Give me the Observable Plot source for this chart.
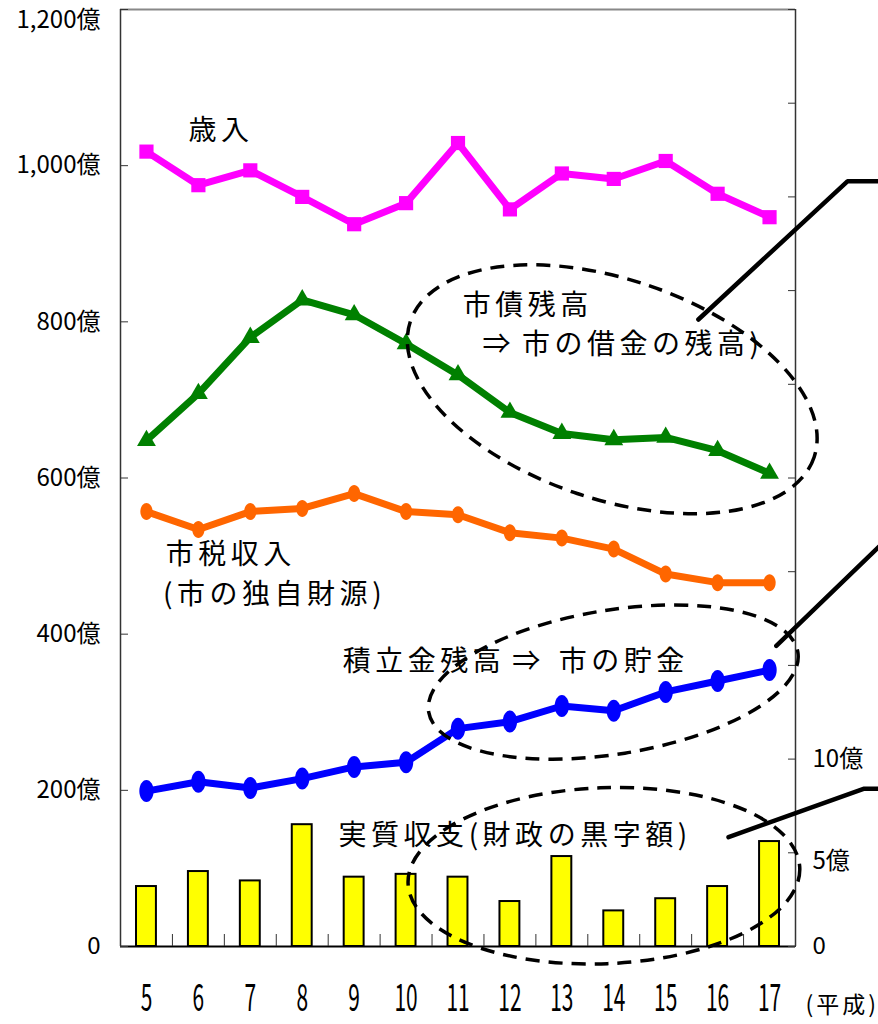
<!DOCTYPE html>
<html><head><meta charset="utf-8">
<script src="https://cdn.jsdelivr.net/npm/d3@7"></script>
<script src="https://cdn.jsdelivr.net/npm/@observablehq/plot@0.6"></script>
<style>
body{margin:0;background:#fff;}
</style></head><body><div id="chart"></div>
<script>
// ---- data ----
const years    = [5,6,7,8,9,10,11,12,13,14,15,16,17];           // 平成
const revenue  = [1018,975,994,960,925,952,1029,944,990,983,1006,964,934]; // 歳入 (億)
const debt     = [648,708,780,828,809,772,732,684,657,649,652,635,606];   // 市債残高 (億)
const tax      = [557,534,557,561,580,557,553,530,523,509,477,466,466];   // 市税収入 (億)
const reserve  = [199,211,203,215,230,236,279,288,308,302,326,340,354];   // 積立金残高 (億)
const surplus  = [3.2,4.0,3.5,6.5,3.7,3.85,3.7,2.4,4.8,1.9,2.55,3.2,5.6]; // 実質収支 (億, right axis)
const leftTicks = [0,200,400,600,800,1000,1200];
const leftTickLabels = ["0","200億","400億","600億","800億","1,000億","1,200億"];
const rightTicks = [0,5,10,15,20,25,30,35,40,45,50];
const rightTickLabels = ["0","5億","10億","","","","","","","",""];
const RIGHT_MAX = 50, LEFT_MAX = 1200;
const toLeft = v => v * LEFT_MAX / RIGHT_MAX;

const rows = years.map((year,i)=>({year, revenue:revenue[i], debt:debt[i], tax:tax[i], reserve:reserve[i], surplus:surplus[i]}));

// ---- annotations (data coordinates) ----
const labels = [
  {x:5.81, y:1044, t:"歳入"},
  {x:11.09, y:820, t:"市債残高"},
  {x:11.47, y:770, t:"⇒ 市の借金の残高)"},
  {x:5.37, y:501, t:"市税収入"},
  {x:5.32, y:450, t:"(市の独自財源)"},
  {x:8.78, y:364, t:"積立金残高 ⇒  市の貯金"},
  {x:8.70, y:141, t:"実質収支(財政の黒字額)"}
];
const leaders = [
  [{x:15.63,y:803},{x:18.50,y:980},{x:19.20,y:980}],
  [{x:17.13,y:385},{x:19.20,y:518}],
  [{x:16.21,y:140},{x:18.81,y:202},{x:19.20,y:202}]
];
const ellipses = [
  {x:13.98, y:713, rx:213, ry:110, rot:18.6},
  {x:14.00, y:338, rx:187, ry:72, rot:-9.2},
  {x:13.82, y:90, rx:196, ry:88, rot:-2.3}
];

function ellipseSymbol(ratio){
  return {draw(ctx, size){
    const r = Math.sqrt(size/Math.PI), rx = r*ratio, ry = r, k = 0.5523;
    ctx.moveTo(rx,0);
    ctx.bezierCurveTo(rx, ry*k, rx*k, ry, 0, ry);
    ctx.bezierCurveTo(-rx*k, ry, -rx, ry*k, -rx, 0);
    ctx.bezierCurveTo(-rx, -ry*k, -rx*k, -ry, 0, -ry);
    ctx.bezierCurveTo(rx*k, -ry, rx, -ry*k, rx, 0);
    ctx.closePath();
  }};
}
function ellipseMark(specs){
  return (index, scales) => {
    const g = d3.create("svg:g").attr("aria-label","ellipses");
    for (const e of specs){
      g.append("ellipse").attr("cx",0).attr("cy",0).attr("rx",e.rx).attr("ry",e.ry)
        .attr("transform",`translate(${scales.x(e.x)},${scales.y(e.y)}) rotate(${e.rot})`)
        .attr("fill","none").attr("stroke","#000").attr("stroke-width",3.5).attr("stroke-dasharray","14 9");
    }
    return g.node();
  };
}
const boundaries = years.slice(0,-1).map(y=>y+0.5);
const labelFor = d => leftTickLabels[leftTicks.indexOf(d)];
const rightLabelFor = d => rightTickLabels[rightTicks.map(toLeft).indexOf(d)];

const chart = Plot.plot({
  width:878, height:1024,
  marginLeft:120, marginRight:83, marginTop:9, marginBottom:78,
  x:{type:"linear", domain:[4.5,17.5], axis:null, label:null},
  y:{domain:[0,LEFT_MAX], axis:null, label:null},
  style:{fontFamily:"'Noto Sans CJK JP', sans-serif", color:"#000", background:"#fff", overflow:"visible"},
  marks:[
    Plot.rectY(rows, {x1:d=>d.year-0.5, x2:d=>d.year+0.5, y:d=>toLeft(d.surplus), fill:"#FFFF00", stroke:"#000", strokeWidth:2, insetLeft:16, insetRight:16}),
    Plot.ruleY([0], {stroke:"#000", strokeWidth:2}),
    Plot.ruleY([LEFT_MAX], {stroke:"#888", strokeWidth:2}),
    Plot.ruleX([4.5], {stroke:"#333", strokeWidth:1.5}),
    Plot.ruleX([17.5], {stroke:"#333", strokeWidth:1.5}),
    // inward ticks
    Plot.axisY(leftTicks, {anchor:"left", tickSize:8, dx:8, tickFormat:()=>"", label:null, stroke:"#333"}),
    Plot.axisY(rightTicks.map(toLeft), {anchor:"right", tickSize:8, dx:-8, tickFormat:()=>"", label:null, stroke:"#333"}),
    Plot.axisX(boundaries, {anchor:"bottom", tickSize:12, dy:-12, tickFormat:()=>"", label:null, stroke:"#333"}),
    // tick labels
    Plot.axisY(leftTicks.slice(0,-1), {anchor:"left", tickSize:0, tickPadding:20, fontSize:24, label:null, tickFormat:labelFor}),
    Plot.axisY(leftTicks.slice(-1), {anchor:"left", tickSize:0, tickPadding:20, fontSize:24, label:null, dy:11, tickFormat:labelFor}),
    Plot.axisY([toLeft(0), toLeft(10)], {anchor:"right", tickSize:0, tickPadding:17, fontSize:24, label:null, tickFormat:rightLabelFor}),
    Plot.axisY([toLeft(5)], {anchor:"right", tickSize:0, tickPadding:17, fontSize:24, label:null, dy:9, tickFormat:rightLabelFor}),
    Plot.axisX(years, {anchor:"bottom", tickSize:0, tickPadding:38, fontSize:38, label:null, tickFormat:d=>String(d)}),
    Plot.text(["(平成)"], {frameAnchor:"bottom-right", dx:10, dy:66, textAnchor:"start", fontSize:23, ariaDescription:"annot2"}),
    // series lines
    Plot.line(rows, {x:"year", y:"revenue", stroke:"#FF00FF", strokeWidth:7}),
    Plot.dot(rows, {x:"year", y:"revenue", symbol:"square", r:8, fill:"#FF00FF"}),
    Plot.line(rows, {x:"year", y:"debt", stroke:"#008000", strokeWidth:7}),
    Plot.dot(rows, {x:"year", y:"debt", symbol:"triangle", r:7, fill:"#008000"}),
    Plot.line(rows, {x:"year", y:"tax", stroke:"#FF6600", strokeWidth:7}),
    Plot.dot(rows, {x:"year", y:"tax", symbol:ellipseSymbol(0.72), r:8.5, fill:"#FF6600"}),
    Plot.line(rows, {x:"year", y:"reserve", stroke:"#0000FF", strokeWidth:7}),
    Plot.dot(rows, {x:"year", y:"reserve", symbol:ellipseSymbol(0.65), r:11, fill:"#0000FF"}),
    // annotations
    ellipseMark(ellipses),
    ...leaders.map(L => Plot.line(L, {x:"x", y:"y", stroke:"#000", strokeWidth:4.5, strokeLinejoin:"miter"})),
    Plot.text(labels, {x:"x", y:"y", text:"t", textAnchor:"start", fontSize:28, fill:"#000", ariaDescription:"annot"})
  ]
});
document.getElementById("chart").appendChild(chart);
d3.select(chart).selectAll('g[aria-label="x-axis tick label"] text').each(function(){
  const t = this.getAttribute("transform");
  if (t) this.setAttribute("transform", t + " scale(0.55,1)");
});
// spread characters (letter spacing) using tspans
function spread(sel, gap, spaceGap){
  d3.select(chart).selectAll(sel).each(function(){
    const s = this.textContent; this.textContent = "";
    let extra = 0, first = true;
    for (const ch of s){
      if (ch === " "){ extra += spaceGap; continue; }
      const t = document.createElementNS("http://www.w3.org/2000/svg","tspan");
      if (!first || extra) t.setAttribute("dx", (first ? 0 : gap) + extra);
      t.textContent = ch; this.appendChild(t);
      first = false; extra = 0;
    }
  });
}
spread('g[aria-description="annot"] text', 4.5, 7);
spread('g[aria-description="annot2"] text', 3, 8);
</script></body></html>
